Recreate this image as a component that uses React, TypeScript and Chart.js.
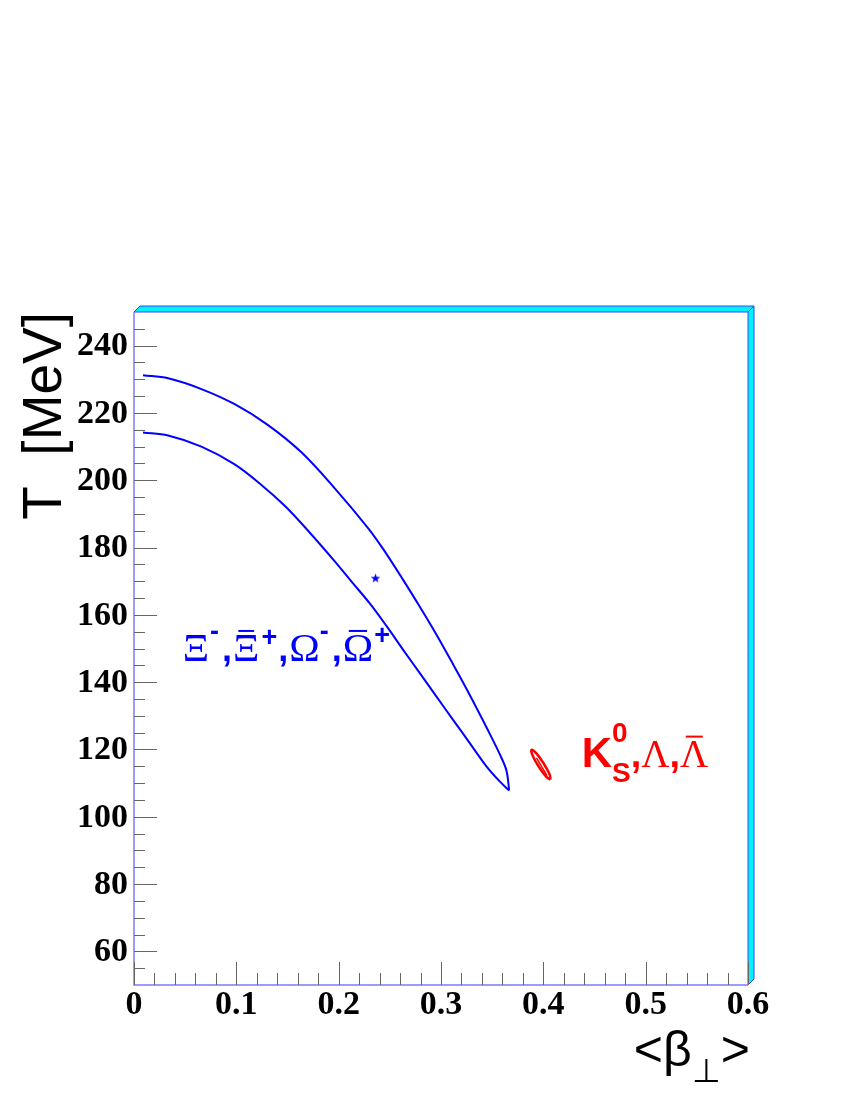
import React, { useEffect, useRef } from "react";
import { Chart, registerables } from "chart.js";
Chart.register(...registerables);

// Xi/Omega contour: upper and lower branches (beta_T, T [MeV])
const upperBeta = [0.0088, 0.0333, 0.0659, 0.0984, 0.131, 0.1636, 0.1962, 0.2287, 0.2434, 0.263, 0.2793, 0.2956, 0.3118, 0.3281, 0.3444, 0.3574, 0.364, 0.3666];
const upperT = [231.2, 230.3, 227.1, 222.6, 216.4, 208.3, 197.6, 185.8, 179.6, 170.4, 162.4, 154.1, 145.3, 136.2, 126.6, 118.6, 113.7, 107.8];
const lowerBeta = [0.0088, 0.0333, 0.0659, 0.0984, 0.1245, 0.1473, 0.1701, 0.1962, 0.2128, 0.2304, 0.2467, 0.263, 0.2793, 0.2956, 0.3118, 0.3281, 0.3444, 0.3574, 0.3666];
const lowerT = [214.2, 213.3, 210.0, 204.7, 198.6, 192.4, 185.0, 175.9, 169.8, 163.4, 156.7, 149.6, 142.7, 135.7, 128.8, 121.9, 115.0, 110.5, 107.8];

// Best fit point (star)
const bestBeta = [0.236];
const bestT = [170.9];

// K0s / Lambda contour (small ellipse) and inner contour
const kaonBeta = [0.407, 0.4061, 0.4002, 0.393, 0.3885, 0.3894, 0.3953, 0.4025, 0.407];
const kaonT = [111.0, 112.6, 115.9, 118.9, 119.9, 118.3, 115.0, 112.0, 111.0];
const kaonInnerBeta = [0.3933, 0.4036];
const kaonInnerT = [117.5, 112.2];

// Axis ticks
const xMajorTicks = [0, 0.1, 0.2, 0.3, 0.4, 0.5, 0.6];
const xTickLabels = ["0", "0.1", "0.2", "0.3", "0.4", "0.5", "0.6"];
const xMinorTicks = [0.02, 0.04, 0.06, 0.08, 0.12, 0.14, 0.16, 0.18, 0.22, 0.24, 0.26, 0.28, 0.32, 0.34, 0.36, 0.38, 0.42, 0.44, 0.46, 0.48, 0.52, 0.54, 0.56, 0.58];
const yMajorTicks = [60, 80, 100, 120, 140, 160, 180, 200, 220, 240];
const yTickLabels = ["60", "80", "100", "120", "140", "160", "180", "200", "220", "240"];
const yMinorTicks = [55, 65, 70, 75, 85, 90, 95, 105, 110, 115, 125, 130, 135, 145, 150, 155, 165, 170, 175, 185, 190, 195, 205, 210, 215, 225, 230, 235, 245];

const X_MIN = 0, X_MAX = 0.6, Y_MIN = 50, Y_MAX = 250;

// text anchors (data coordinates)
const xiLabelPos = { beta: 0.0476, T: 146.3 };
const kLabelPos = { beta: 0.4375, T: 114.9 };

const toXY = (xs: number[], ys: number[]) => xs.map((x, i) => ({ x, y: ys[i] }));

type Piece = { t: string; font: string; color: string; dy?: number; bar?: boolean; stackNext?: boolean; gap?: number };

function drawPieces(ctx: CanvasRenderingContext2D, x0: number, y0: number, pieces: Piece[]) {
  let x = x0;
  let stackW = 0;
  for (let i = 0; i < pieces.length; i++) {
    const p = pieces[i];
    ctx.font = p.font;
    ctx.fillStyle = p.color;
    ctx.textAlign = "left";
    ctx.textBaseline = "alphabetic";
    const w = ctx.measureText(p.t).width;
    ctx.fillText(p.t, x, y0 + (p.dy || 0));
    if (p.bar) {
      const m = ctx.measureText(p.t);
      const top = y0 + (p.dy || 0) - m.actualBoundingBoxAscent;
      ctx.strokeStyle = p.color;
      ctx.lineWidth = 2;
      ctx.beginPath();
      ctx.moveTo(x + w * 0.2, top - 4);
      ctx.lineTo(x + w * 0.8, top - 4);
      ctx.stroke();
    }
    if (p.stackNext) {
      stackW = w;
    } else {
      x += Math.max(w, stackW) + (p.gap || 0);
      stackW = 0;
    }
  }
}

export default function App() {
  const ref = useRef<HTMLCanvasElement>(null);
  useEffect(() => {
    const canvas = ref.current!;
    const starImg = document.createElement("canvas");
    starImg.width = 11;
    starImg.height = 11;
    const sctx = starImg.getContext("2d")!;
    sctx.fillStyle = "#0000ff";
    sctx.beginPath();
    for (let i = 0; i < 10; i++) {
      const r = i % 2 === 0 ? 5 : 2;
      const a = -Math.PI / 2 + (i * Math.PI) / 5;
      const px = 5.5 + r * Math.cos(a);
      const py = 5.8 + r * Math.sin(a);
      if (i === 0) sctx.moveTo(px, py);
      else sctx.lineTo(px, py);
    }
    sctx.closePath();
    sctx.fill();

    const plugin = {
      id: "rootStyle",
      beforeDatasetsDraw(chart: any) {
        const ctx: CanvasRenderingContext2D = chart.ctx;
        const a = chart.chartArea;
        const xs = chart.scales.x;
        const ys = chart.scales.y;
        const d = 6;
        ctx.save();
        // 3D frame faces
        ctx.fillStyle = "#00f2ff";
        ctx.strokeStyle = "#3344ff";
        ctx.lineWidth = 1;
        ctx.beginPath();
        ctx.moveTo(a.left, a.top);
        ctx.lineTo(a.left + d, a.top - d);
        ctx.lineTo(a.right + d, a.top - d);
        ctx.lineTo(a.right, a.top);
        ctx.closePath();
        ctx.fill();
        ctx.stroke();
        ctx.beginPath();
        ctx.moveTo(a.right, a.top);
        ctx.lineTo(a.right + d, a.top - d);
        ctx.lineTo(a.right + d, a.bottom - d);
        ctx.lineTo(a.right, a.bottom);
        ctx.closePath();
        ctx.fill();
        ctx.stroke();
        // axes lines
        ctx.strokeStyle = "#7a7aff";
        ctx.lineWidth = 1.5;
        ctx.beginPath();
        ctx.moveTo(a.left, a.top);
        ctx.lineTo(a.left, a.bottom);
        ctx.lineTo(a.right, a.bottom);
        ctx.stroke();
        // ticks
        ctx.strokeStyle = "#666666";
        ctx.lineWidth = 1;
        ctx.beginPath();
        yMajorTicks.forEach((v) => {
          const py = Math.round(ys.getPixelForValue(v)) + 0.5;
          ctx.moveTo(a.left, py);
          ctx.lineTo(a.left + 23, py);
        });
        yMinorTicks.forEach((v) => {
          const py = Math.round(ys.getPixelForValue(v)) + 0.5;
          ctx.moveTo(a.left, py);
          ctx.lineTo(a.left + 11, py);
        });
        xMajorTicks.forEach((v) => {
          const px = Math.round(xs.getPixelForValue(v)) + 0.5;
          ctx.moveTo(px, a.bottom);
          ctx.lineTo(px, a.bottom - 23);
        });
        xMinorTicks.forEach((v) => {
          const px = Math.round(xs.getPixelForValue(v)) + 0.5;
          ctx.moveTo(px, a.bottom);
          ctx.lineTo(px, a.bottom - 12);
        });
        ctx.stroke();
        // tick labels
        ctx.fillStyle = "#000000";
        ctx.font = 'bold 34px "Liberation Serif"';
        ctx.textAlign = "right";
        ctx.textBaseline = "middle";
        yMajorTicks.forEach((v, i) => {
          ctx.fillText(yTickLabels[i], a.left - 6, ys.getPixelForValue(v) + 1);
        });
        ctx.textAlign = "center";
        ctx.textBaseline = "alphabetic";
        xMajorTicks.forEach((v, i) => {
          ctx.fillText(xTickLabels[i], xs.getPixelForValue(v), a.bottom + 29);
        });
        // Y title
        ctx.save();
        ctx.font = '55px "Liberation Sans"';
        ctx.translate(61, a.top);
        ctx.rotate(-Math.PI / 2);
        ctx.textAlign = "right";
        ctx.fillText("T  [MeV]", 0, 0);
        ctx.restore();
        // X title
        ctx.save();
        ctx.textBaseline = "alphabetic";
        ctx.textAlign = "left";
        const big = '50px "Liberation Sans"';
        const small = '33px "Liberation Sans"';
        ctx.font = big;
        const w1 = ctx.measureText("<\u03b2").width;
        const w3 = ctx.measureText(">").width;
        ctx.font = small;
        const w2 = ctx.measureText("\u22a5").width;
        const xEnd = a.right + 2;
        const xStart = xEnd - (w1 + w2 + w3);
        const base = 1066;
        ctx.font = big;
        ctx.fillText("<\u03b2", xStart, base);
        ctx.font = small;
        ctx.fillText("\u22a5", xStart + w1, base + 16);
        ctx.font = big;
        ctx.fillText(">", xStart + w1 + w2, base);
        ctx.restore();
        ctx.restore();
      },
      afterDatasetsDraw(chart: any) {
        const ctx: CanvasRenderingContext2D = chart.ctx;
        const xs = chart.scales.x;
        const ys = chart.scales.y;
        ctx.save();
        const blue = "#0000ff";
        const gfont = '41px "Liberation Serif"';
        const sfont = 'bold 27px "Liberation Sans"';
        const cfont = 'bold 36px "Liberation Sans"';
        drawPieces(ctx, xs.getPixelForValue(xiLabelPos.beta), ys.getPixelForValue(xiLabelPos.T), [
          { t: "\u039e", font: gfont, color: blue, gap: 1 },
          { t: "-", font: sfont, color: blue, dy: -21, gap: 3 },
          { t: ",", font: cfont, color: blue, gap: 1 },
          { t: "\u039e", font: gfont, color: blue, bar: true, gap: 2 },
          { t: "+", font: sfont, color: blue, dy: -15, gap: 1 },
          { t: ",", font: cfont, color: blue, gap: 1 },
          { t: "\u03a9", font: gfont, color: blue, gap: 0 },
          { t: "-", font: sfont, color: blue, dy: -21, gap: 3 },
          { t: ",", font: cfont, color: blue, gap: 1 },
          { t: "\u03a9", font: gfont, color: blue, bar: true, gap: 1 },
          { t: "+", font: sfont, color: blue, dy: -17 },
        ]);
        const red = "#ff0000";
        drawPieces(ctx, xs.getPixelForValue(kLabelPos.beta), ys.getPixelForValue(kLabelPos.T), [
          { t: "K", font: 'bold 42px "Liberation Sans"', color: red, gap: 0 },
          { t: "0", font: 'bold 28px "Liberation Sans"', color: red, dy: -25, stackNext: true },
          { t: "S", font: 'bold 28px "Liberation Sans"', color: red, dy: 15, gap: 0 },
          { t: ",", font: 'bold 38px "Liberation Sans"', color: red, gap: 0 },
          { t: "\u039b", font: '39px "Liberation Serif"', color: red, gap: 0 },
          { t: ",", font: 'bold 38px "Liberation Sans"', color: red, gap: 0 },
          { t: "\u039b", font: '39px "Liberation Serif"', color: red, bar: true },
        ]);
        ctx.restore();
      },
    };

    const chart = new Chart(canvas, {
      type: "scatter",
      data: {
        datasets: [
          {
            data: toXY(upperBeta, upperT),
            showLine: true,
            borderColor: "#0000ff",
            borderWidth: 2,
            pointRadius: 0,
            tension: 0.35,
          },
          {
            data: toXY(lowerBeta, lowerT),
            showLine: true,
            borderColor: "#0000ff",
            borderWidth: 2,
            pointRadius: 0,
            tension: 0.35,
          },
          {
            data: toXY(bestBeta, bestT),
            pointStyle: starImg as any,
            pointRadius: 5,
          },
          {
            data: toXY(kaonBeta, kaonT),
            showLine: true,
            borderColor: "#ff0000",
            borderWidth: 2.5,
            pointRadius: 0,
            tension: 0.4,
          },
          {
            data: toXY(kaonInnerBeta, kaonInnerT),
            showLine: true,
            borderColor: "#ff0000",
            borderWidth: 1.5,
            pointRadius: 0,
          },
        ],
      },
      options: {
        responsive: false,
        animation: false,
        devicePixelRatio: 1,
        layout: { padding: { left: 134, right: 102, top: 312, bottom: 115 } },
        plugins: { legend: { display: false }, tooltip: { enabled: false } },
        scales: {
          x: { type: "linear", min: X_MIN, max: X_MAX, display: false },
          y: { type: "linear", min: Y_MIN, max: Y_MAX, display: false },
        },
      },
      plugins: [plugin],
    });
    return () => chart.destroy();
  }, []);
  return (
    <canvas
      ref={ref}
      width={850}
      height={1100}
      style={{ position: "absolute", left: 0, top: 0, width: 850, height: 1100 }}
    />
  );
}
